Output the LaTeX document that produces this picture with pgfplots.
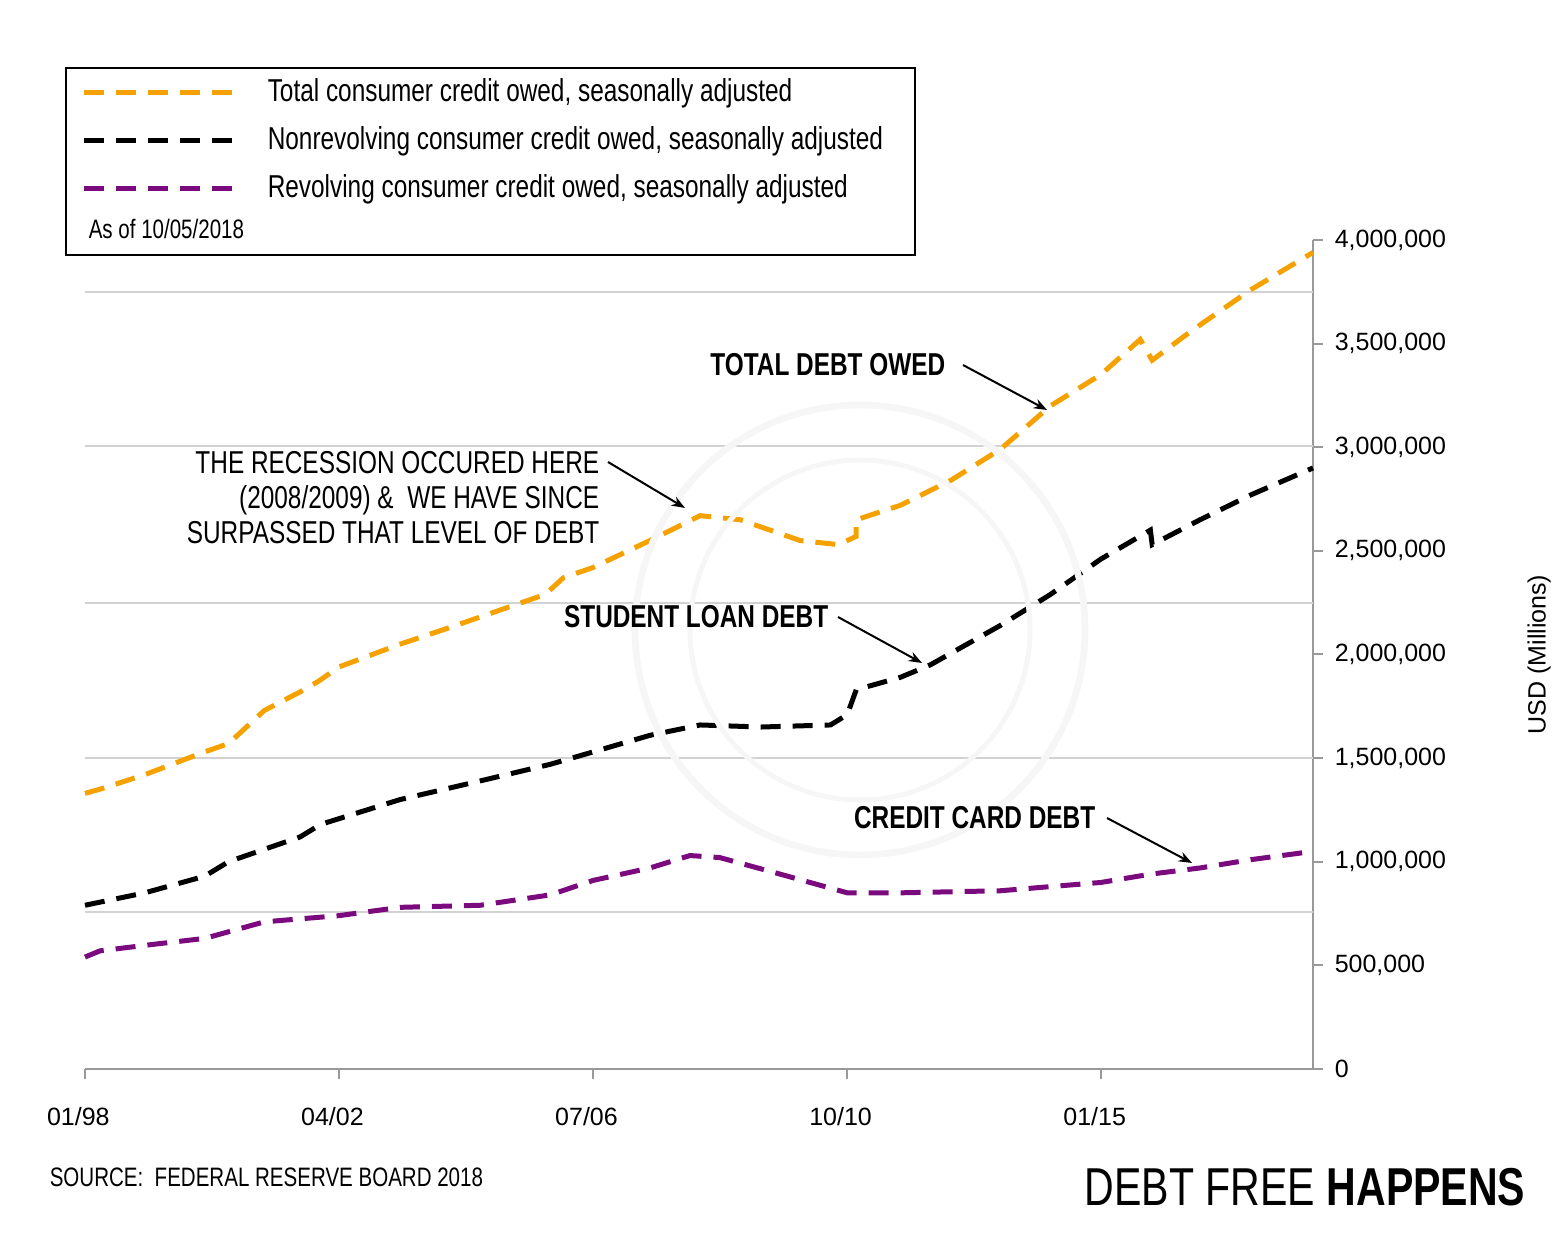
\documentclass[border=0pt]{standalone}
\usepackage{pgfplots}
\pgfplotsset{compat=1.18}
\usepackage{fontspec}
\setmainfont{Liberation Sans}
\newfontfamily\cond[FakeStretch=0.77]{Liberation Sans}
\usetikzlibrary{arrows.meta}
\definecolor{corange}{HTML}{F5A100}
\definecolor{cpurple}{HTML}{7A0A7D}
\begin{document}
\begin{tikzpicture}
\path (0,0) rectangle (468.9pt,375pt);
\begin{axis}[at={(25.5pt,54.3pt)},anchor=south west,scale only axis,
 width=368.4pt,height=248.7pt,
 xmin=1998,xmax=2018.54,ymin=0,ymax=4000000,
 axis y line*=right, axis x line*=bottom,
 axis line style={gray!80, line width=0.6pt},
 tick style={gray!80, line width=0.6pt},
 major tick length=3pt,
 xtick={1998,2002.25,2006.5,2010.75,2015},
 xticklabels={01/98,04/02,07/06,10/10,01/15},
 xtick align=outside, ytick align=outside,
 xticklabel style={font=\fontsize{7.5}{9}\selectfont, yshift=-5pt, xshift=-2pt},
 ytick={0,500000,...,4000000},
 yticklabel style={font=\fontsize{7.5}{9}\selectfont, anchor=west},
 yticklabel={\pgfmathprintnumber[fixed,1000 sep={,},assume math mode=true]{\tick}},
 scaled y ticks=false,
 extra y ticks={757000,1500000,2248000,3006000,3749000},
 extra y tick labels={},
 extra y tick style={grid=major, major tick length=0pt, major grid style={gray!35, line width=0.6pt}},
 ylabel={USD (Millions)}, ylabel style={font=\fontsize{7.5}{9}\selectfont, at={(rel axis cs:1.165,0.5)}, rotate=0},
 clip=false,
]
\addplot[corange, line width=1.5pt, dash pattern=on 6pt off 3.6pt] coordinates {
(1998.00,1330000)(1998.25,1350000)(1999,1420000)(2000.0,1530000)(2000.4,1570000)(2001.0,1730000)(2001.6,1820000)(2001.9,1870000)
(2002.25,1940000)(2003.27,2050000)(2004.1,2130000)(2004.9,2210000)(2005.7,2290000)(2006.0,2370000)
(2006.5,2420000)(2007.45,2550000)(2008.29,2670000)(2008.96,2650000)(2009.96,2550000)(2010.6,2530000)(2010.9,2570000)(2010.9,2650000)
(2011.64,2720000)(2012.48,2840000)(2013.31,2990000)(2014.15,3200000)(2014.99,3350000)(2015.65,3520000)(2015.85,3420000)(2016.5,3560000)
(2017.5,3760000)(2018.54,3940000)};
\addplot[black, line width=1.5pt, dash pattern=on 6pt off 3.6pt] coordinates {
(1998.00,790000)(1999,850000)(2000.0,930000)(2000.4,1000000)(2001.6,1120000)(2001.94,1180000)(2003.27,1300000)(2004.61,1390000)
(2005.78,1470000)(2006.5,1530000)(2007.45,1610000)(2008.29,1660000)(2009.3,1650000)(2010.47,1660000)(2010.75,1710000)(2010.9,1830000)
(2011.64,1890000)(2012.14,1950000)(2013.31,2140000)(2014.15,2290000)(2014.99,2460000)(2015.82,2600000)(2015.85,2530000)
(2016.65,2650000)(2017.5,2770000)(2018.54,2900000)};
\addplot[cpurple, line width=1.5pt, dash pattern=on 6pt off 3.6pt] coordinates {
(1998.00,540000)(1998.25,570000)(1999.1,600000)(2000.0,630000)(2001.0,710000)(2002.25,740000)(2003.27,780000)(2004.61,790000)
(2005.78,840000)(2006.5,910000)(2007.45,970000)(2008.12,1030000)(2008.62,1020000)(2009.63,940000)(2010.75,850000)(2011.64,850000)
(2013.31,860000)(2014.99,900000)(2015.82,940000)(2016.65,970000)(2017.5,1010000)(2018.54,1050000)};
\end{axis}
\begin{scope}[x=0.3pt,y=-0.3pt,yshift=375pt]
\draw[gray!7, line width=2pt] (860,630) circle (225);
\draw[gray!7, line width=1.5pt] (860,630) circle (170);
\draw[black, line width=0.6pt] (66,68) rectangle (915,255);
\foreach \y/\c in {93/corange,141/black,189/cpurple}
  \draw[\c, line width=1.5pt, dash pattern=on 6pt off 3.6pt] (84,\y) -- (242,\y);
\node[anchor=west, font=\cond\fontsize{9.5}{11}\selectfont] at (256,93) {Total consumer credit owed, seasonally adjusted};
\node[anchor=west, font=\cond\fontsize{9.5}{11}\selectfont] at (256,141) {Nonrevolving consumer credit owed, seasonally adjusted};
\node[anchor=west, font=\cond\fontsize{9.5}{11}\selectfont] at (256,189) {Revolving consumer credit owed, seasonally adjusted};
\node[anchor=west, font=\cond\fontsize{8}{10}\selectfont] at (77,229) {As of 10/05/2018};
\node[anchor=east, font=\cond\bfseries\fontsize{9.5}{11}\selectfont] at (957,365) {TOTAL DEBT OWED};
\draw[-{Stealth[open,length=4pt]}, line width=0.6pt] (963,365) -- (1047,410);
\node[anchor=east, align=right, font=\cond\fontsize{9.5}{10.5}\selectfont] at (611,498) {THE RECESSION OCCURED HERE\\(2008/2009) \&\ \ WE HAVE SINCE\\SURPASSED THAT LEVEL OF DEBT};
\draw[-{Stealth[open,length=4pt]}, line width=0.6pt] (608,462) -- (685,508);
\node[anchor=east, font=\cond\bfseries\fontsize{9.5}{11}\selectfont] at (840,617) {STUDENT LOAN DEBT};
\draw[-{Stealth[open,length=4pt]}, line width=0.6pt] (838,617) -- (922,663);
\node[anchor=east, font=\cond\bfseries\fontsize{9.5}{11}\selectfont] at (1107,818) {CREDIT CARD DEBT};
\draw[-{Stealth[open,length=4pt]}, line width=0.6pt] (1107,818) -- (1192,863);
\node[anchor=west, font=\cond\fontsize{8}{10}\selectfont] at (38,1177) {SOURCE:\ \ FEDERAL RESERVE BOARD 2018};
\node[anchor=east, font=\cond\fontsize{16}{20}\selectfont] at (1537,1187) {DEBT FREE \textbf{HAPPENS}};
\end{scope}
\end{tikzpicture}
\end{document}
